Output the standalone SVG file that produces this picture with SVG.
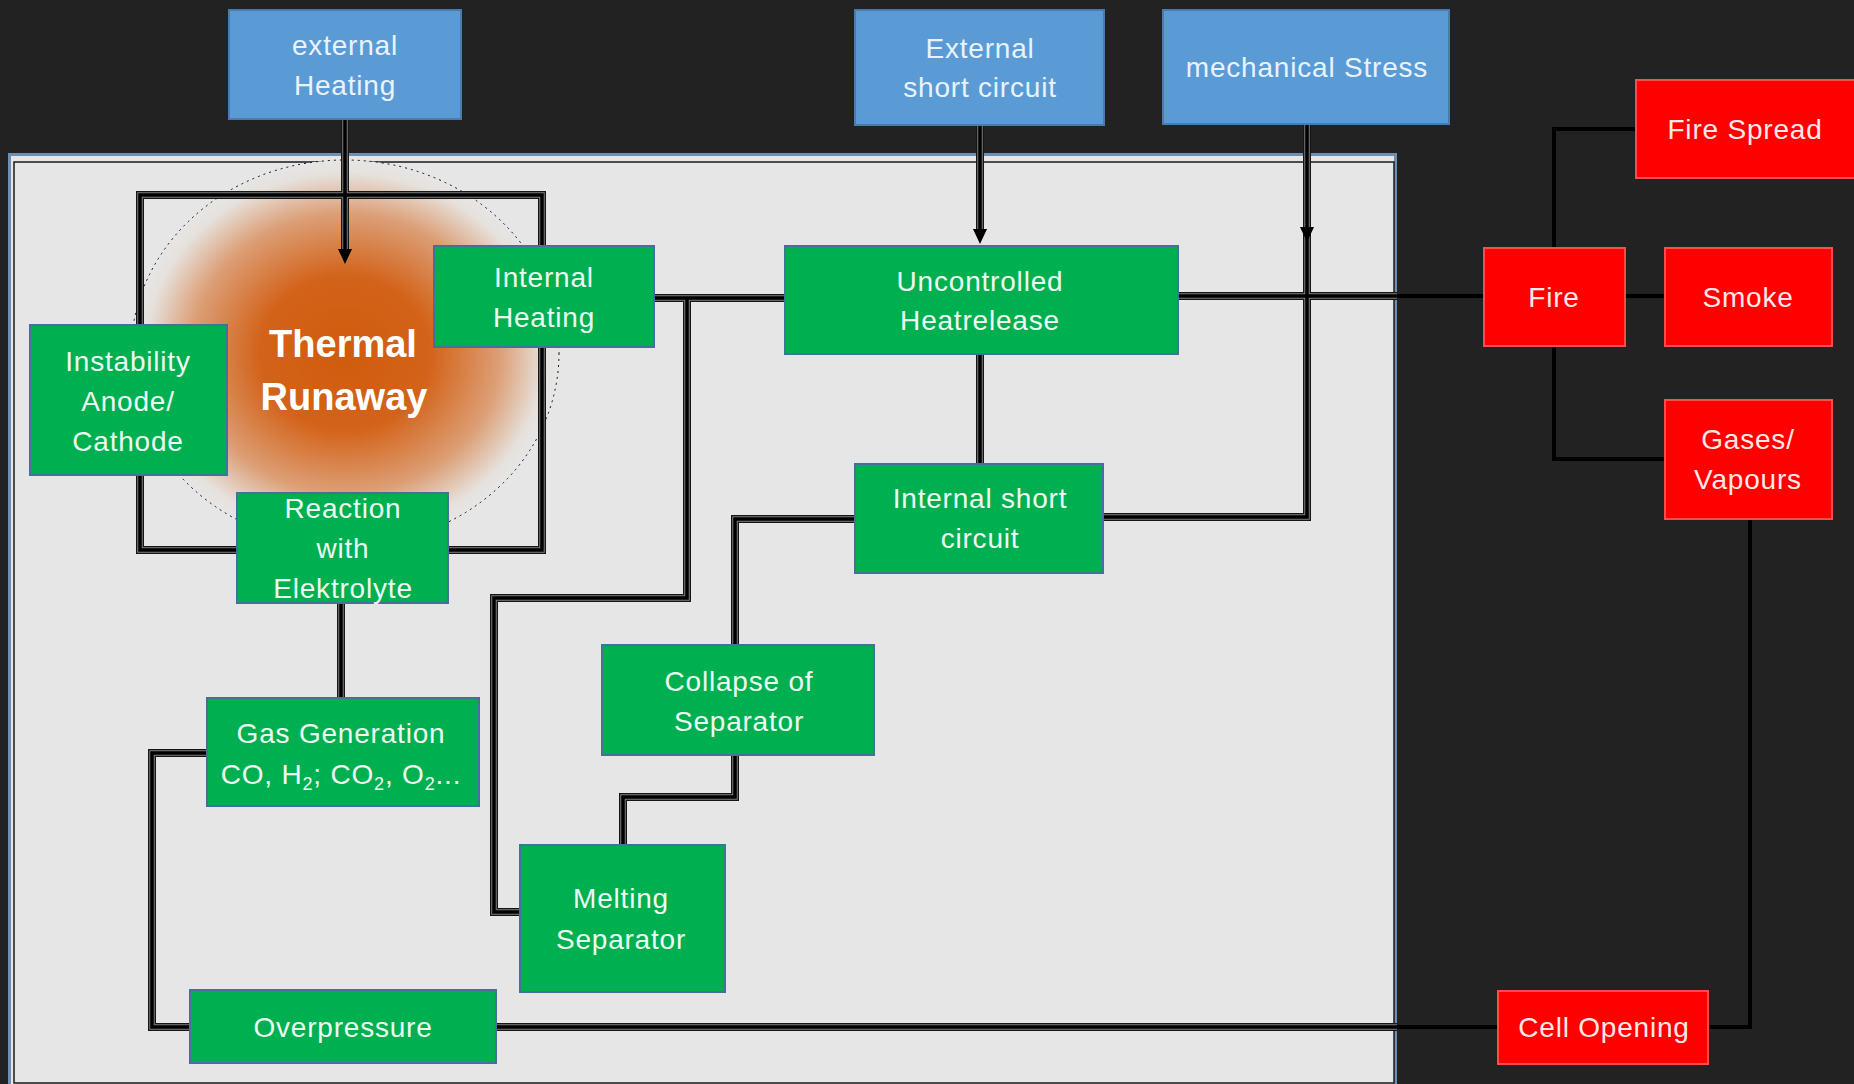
<svg xmlns="http://www.w3.org/2000/svg" xmlns:xlink="http://www.w3.org/1999/xlink" width="1854" height="1084" viewBox="0 0 1854 1084">
  <style>
    .t { font-family: "Liberation Sans", Arial, sans-serif; font-size: 28px; letter-spacing: 0.8px; text-anchor: middle; }
    .tb { font-family: "Liberation Sans", Arial, sans-serif; font-size: 38px; font-weight: bold; text-anchor: middle; fill: #ffffff; }
    .blue rect { fill: #5B9BD5; stroke: #4A7BAA; stroke-width: 2; }
    .blue text { fill: #EAF2FB; }
    .green rect { fill: #00B050; stroke: #41719C; stroke-width: 2; }
    .green text { fill: #EDFAF2; }
    .red rect { fill: #FF0000; stroke: #FF4A4A; stroke-width: 2; }
    .red text { fill: #FFE8E8; }
    .l1 { fill: none; stroke: #161616; stroke-width: 8; }
    .l2 { fill: none; stroke: #7E7E7E; stroke-width: 5.5; }
    .l3 { fill: none; stroke: #000000; stroke-width: 3.5; }
    .lo { fill: none; stroke: #000000; stroke-width: 4; }
  </style>
  <defs>
    <radialGradient id="trg" cx="0.5" cy="0.5" r="0.5">
      <stop offset="0" stop-color="#D05B0C"/>
      <stop offset="0.4" stop-color="#D3631A"/>
      <stop offset="0.72" stop-color="#DC9E75"/>
      <stop offset="0.93" stop-color="#E6E1DC"/>
      <stop offset="1" stop-color="#E6E6E6"/>
    </radialGradient>
    <polygon id="arr" points="-7,-15 7,-15 0,0" fill="#000"/>
    <path id="cA" d="M345,119 V252"/>
    <path id="cB" d="M140,195 H542 V550 H140 Z"/>
    <path id="cC" d="M654,298 H785"/>
    <path id="cD" d="M687,298 V598 H494 V912 H520"/>
    <path id="cE" d="M980,125 V232"/>
    <path id="cF" d="M980,354 V464"/>
    <path id="cG" d="M855,519 H735 V645"/>
    <path id="cH" d="M735,755 V797 H623 V845"/>
    <path id="cI" d="M341,603 V698"/>
    <path id="cJ" d="M207,753 H152 V1027 H190"/>
    <path id="cK" d="M496,1027 H1397"/>
    <path id="cL" d="M1307,124 V517 H1103"/>
    <path id="cM" d="M1178,296 H1397"/>
  </defs>

  <rect x="0" y="0" width="1854" height="1084" fill="#222222"/>

  <g id="panel">
    <rect x="9.5" y="154.5" width="1386" height="940" fill="#E6E6E6" stroke="#6F8FB2" stroke-width="3"/>
    <rect x="14" y="162" width="1380" height="921" fill="none" stroke="#1a1a1a" stroke-width="1.5"/>
  </g>

  <g id="thermal-runaway">
    <ellipse cx="345" cy="353" rx="214" ry="193" fill="url(#trg)"/>
    <ellipse cx="345" cy="353" rx="214" ry="193" fill="none" stroke="#111" stroke-width="1" stroke-dasharray="2 4"/>
    <text class="tb" x="343" y="357">Thermal</text>
    <text class="tb" x="344" y="410">Runaway</text>
  </g>

  <g id="connectors">
    <g class="l1">
      <use xlink:href="#cA"/><use xlink:href="#cB"/><use xlink:href="#cC"/><use xlink:href="#cD"/>
      <use xlink:href="#cE"/><use xlink:href="#cF"/><use xlink:href="#cG"/><use xlink:href="#cH"/>
      <use xlink:href="#cI"/><use xlink:href="#cJ"/><use xlink:href="#cK"/><use xlink:href="#cL"/><use xlink:href="#cM"/>
    </g>
    <g class="l2">
      <use xlink:href="#cA"/><use xlink:href="#cB"/><use xlink:href="#cC"/><use xlink:href="#cD"/>
      <use xlink:href="#cE"/><use xlink:href="#cF"/><use xlink:href="#cG"/><use xlink:href="#cH"/>
      <use xlink:href="#cI"/><use xlink:href="#cJ"/><use xlink:href="#cK"/><use xlink:href="#cL"/><use xlink:href="#cM"/>
    </g>
    <g class="l3">
      <use xlink:href="#cA"/><use xlink:href="#cB"/><use xlink:href="#cC"/><use xlink:href="#cD"/>
      <use xlink:href="#cE"/><use xlink:href="#cF"/><use xlink:href="#cG"/><use xlink:href="#cH"/>
      <use xlink:href="#cI"/><use xlink:href="#cJ"/><use xlink:href="#cK"/><use xlink:href="#cL"/><use xlink:href="#cM"/>
    </g>
    <path class="lo" d="M1397,296 H1484"/>
    <path class="lo" d="M1397,1027 H1498"/>
    <path class="lo" d="M1554,248 V129 H1636"/>
    <path class="lo" d="M1625,296 H1665"/>
    <path class="lo" d="M1554,346 V459 H1665"/>
    <path class="lo" d="M1708,1027 H1750 V519"/>
    <use xlink:href="#arr" x="345" y="264"/>
    <use xlink:href="#arr" x="980" y="244"/>
    <use xlink:href="#arr" x="1307" y="242"/>
  </g>

  <g id="n-external-heating" class="blue">
    <rect x="229" y="10" width="232" height="109"/>
    <text class="t" x="345" y="55">external</text>
    <text class="t" x="345" y="95">Heating</text>
  </g>
  <g id="n-external-short-circuit" class="blue">
    <rect x="855" y="10" width="249" height="115"/>
    <text class="t" x="980" y="58">External</text>
    <text class="t" x="980" y="97">short circuit</text>
  </g>
  <g id="n-mechanical-stress" class="blue">
    <rect x="1163" y="10" width="286" height="114"/>
    <text class="t" x="1307" y="77">mechanical Stress</text>
  </g>

  <g id="n-internal-heating" class="green">
    <rect x="434" y="246" width="220" height="101"/>
    <text class="t" x="544" y="287">Internal</text>
    <text class="t" x="544" y="327">Heating</text>
  </g>
  <g id="n-instability" class="green">
    <rect x="30" y="325" width="197" height="150"/>
    <text class="t" x="128" y="371">Instability</text>
    <text class="t" x="128" y="411">Anode/</text>
    <text class="t" x="128" y="451">Cathode</text>
  </g>
  <g id="n-reaction" class="green">
    <rect x="237" y="493" width="211" height="110"/>
    <text class="t" x="343" y="518">Reaction</text>
    <text class="t" x="343" y="558">with</text>
    <text class="t" x="343" y="598">Elektrolyte</text>
  </g>
  <g id="n-uncontrolled" class="green">
    <rect x="785" y="246" width="393" height="108"/>
    <text class="t" x="980" y="291">Uncontrolled</text>
    <text class="t" x="980" y="330">Heatrelease</text>
  </g>
  <g id="n-internal-short" class="green">
    <rect x="855" y="464" width="248" height="109"/>
    <text class="t" x="980" y="508">Internal short</text>
    <text class="t" x="980" y="548">circuit</text>
  </g>
  <g id="n-collapse" class="green">
    <rect x="602" y="645" width="272" height="110"/>
    <text class="t" x="739" y="691">Collapse of</text>
    <text class="t" x="739" y="731">Separator</text>
  </g>
  <g id="n-gas-generation" class="green">
    <rect x="207" y="698" width="272" height="108"/>
    <text class="t" x="341" y="743">Gas Generation</text>
    <text class="t" x="341" y="784">CO, H<tspan font-size="18" dy="6">2</tspan><tspan dy="-6">; CO</tspan><tspan font-size="18" dy="6">2</tspan><tspan dy="-6">, O</tspan><tspan font-size="18" dy="6">2</tspan><tspan dy="-6">...</tspan></text>
  </g>
  <g id="n-melting" class="green">
    <rect x="520" y="845" width="205" height="147"/>
    <text class="t" x="621" y="908">Melting</text>
    <text class="t" x="621" y="949">Separator</text>
  </g>
  <g id="n-overpressure" class="green">
    <rect x="190" y="990" width="306" height="73"/>
    <text class="t" x="343" y="1037">Overpressure</text>
  </g>

  <g id="n-fire-spread" class="red">
    <rect x="1636" y="80" width="222" height="98"/>
    <text class="t" x="1745" y="139">Fire Spread</text>
  </g>
  <g id="n-fire" class="red">
    <rect x="1484" y="248" width="141" height="98"/>
    <text class="t" x="1554" y="307">Fire</text>
  </g>
  <g id="n-smoke" class="red">
    <rect x="1665" y="248" width="167" height="98"/>
    <text class="t" x="1748" y="307">Smoke</text>
  </g>
  <g id="n-gases" class="red">
    <rect x="1665" y="400" width="167" height="119"/>
    <text class="t" x="1748" y="449">Gases/</text>
    <text class="t" x="1748" y="489">Vapours</text>
  </g>
  <g id="n-cell-opening" class="red">
    <rect x="1498" y="991" width="210" height="73"/>
    <text class="t" x="1604" y="1037">Cell Opening</text>
  </g>
</svg>
